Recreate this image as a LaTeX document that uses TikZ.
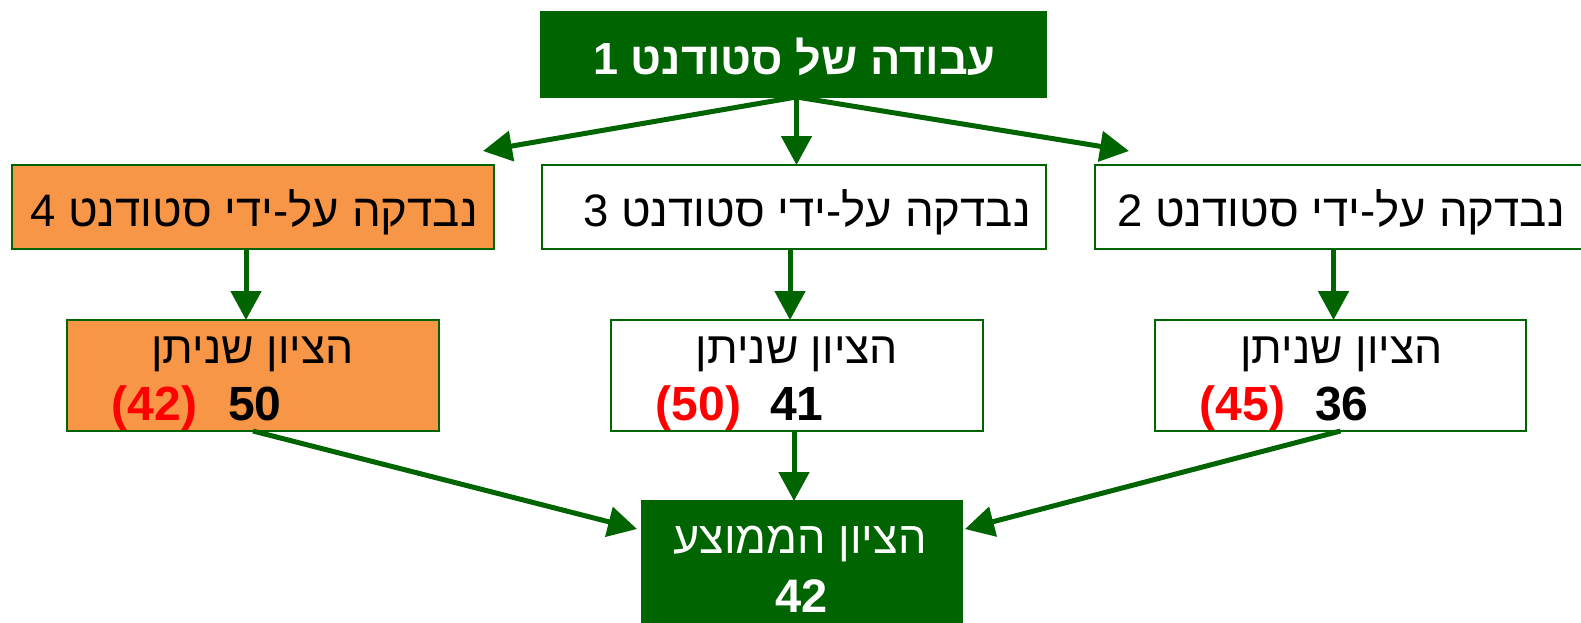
\documentclass[tikz,border=0pt]{standalone}
\usepackage{fontspec}
\setmainfont{Liberation Sans}
\newfontfamily\heb[Script=Hebrew]{Liberation Sans}
\TeXXeTstate=1
\usetikzlibrary{arrows.meta,calc}
\definecolor{dkgreen}{RGB}{0,100,0}
\definecolor{orangebox}{RGB}{247,150,70}
\definecolor{numred}{RGB}{255,0,0}
\tikzset{
  box/.style={draw=dkgreen, line width=1.6pt, inner sep=0pt, outer sep=0pt},
  darkbox/.style={box, fill=dkgreen},
  orbox/.style={box, fill=orangebox},
  whbox/.style={box, fill=white},
  arr/.style={draw=dkgreen, line width=5pt, -{Triangle[length=29pt,width=30pt]}},
  txt/.style={inner sep=0pt, outer sep=0pt, anchor=base},
  lbl/.style={txt, font=\heb\fontsize{45.5}{54}\selectfont},
  lblb/.style={txt, font=\heb\fontsize{44.5}{53}\selectfont},
  num/.style={inner sep=0pt, outer sep=0pt, font=\bfseries\fontsize{48}{56}\selectfont},
}
\begin{document}
\begin{tikzpicture}[x=1pt,y=-1pt]
\useasboundingbox (0,0) rectangle (1581,623);
\clip (0,0) rectangle (1581,623);
% boxes
\node[darkbox, minimum width=505, minimum height=85] (top) at (793.5,54.5) {};
\node[orbox, minimum width=482, minimum height=84] (b4) at (253,207) {};
\node[whbox, minimum width=504, minimum height=84] (b3) at (794,207) {};
\node[whbox, minimum width=505, minimum height=84] (b2) at (1347.5,207) {};
\node[orbox, minimum width=372, minimum height=111] (g4) at (253,375.5) {};
\node[whbox, minimum width=372, minimum height=111] (g3) at (797,375.5) {};
\node[whbox, minimum width=371, minimum height=111] (g2) at (1340.5,375.5) {};
\node[darkbox, minimum width=320, minimum height=139] (avg) at (802,570.5) {};
% texts
\node[txt, text=white, font=\heb\bfseries\fontsize{45}{52}\selectfont] (toptxt) at (794.5,75) {\beginR עבודה של סטודנט 1\endR};
\node[lbl] (b4txt) at (254,226) {\beginR נבדקה על-ידי סטודנט 4\endR};
\node[lbl] (b3txt) at (807,226) {\beginR נבדקה על-ידי סטודנט 3\endR};
\node[lbl] (b2txt) at (1341,226) {\beginR נבדקה על-ידי סטודנט 2\endR};
\node[lblb] (g4txt) at (252.5,363) {\beginR הציון שניתן\endR};
\node[lblb] (g3txt) at (797,363) {\beginR הציון שניתן\endR};
\node[lblb] (g2txt) at (1341.5,363) {\beginR הציון שניתן\endR};
\node[num, text=numred, anchor=base east] (g4old) at (197,420) {(42)};
\node[num, anchor=base west] (g4new) at (228,420) {50};
\node[num, text=numred, anchor=base east] (g3old) at (741,420) {(50)};
\node[num, anchor=base west] (g3new) at (770,420) {41};
\node[num, text=numred, anchor=base east] (g2old) at (1285,420) {(45)};
\node[num, anchor=base west] (g2new) at (1315,420) {36};
\node[txt, text=white, font=\heb\fontsize{45}{54}\selectfont] (avgtxt) at (800,553) {\beginR הציון הממוצע\endR};
\node[txt, text=white, font=\bfseries\fontsize{47}{56}\selectfont] (avgnum) at (801.5,612) {42};
% free arrow ends
\coordinate (t4) at (483,151);
\coordinate (t2) at (1129,151);
\coordinate (tl) at (637,529);
\coordinate (tr) at (965,529);
% connectors
\draw[arr] ([xshift=3pt]top.south) -- (t4);
\draw[arr] ([xshift=3pt]top.south) -- (t2);
\draw[arr] ([xshift=3pt]top.south) -- ([xshift=3pt]top.south |- b3.north);
\draw[arr] ([xshift=-7pt]g4.north |- b4.south) -- ([xshift=-7pt]g4.north);
\draw[arr] ([xshift=-7pt]g3.north |- b3.south) -- ([xshift=-7pt]g3.north);
\draw[arr] ([xshift=-7pt]g2.north |- b2.south) -- ([xshift=-7pt]g2.north);
\draw[arr] (g4.south) -- (tl);
\draw[arr] (g2.south) -- (tr);
\draw[arr] ([xshift=-3pt]g3.south) -- ([xshift=-3pt]g3.south |- avg.north);
\end{tikzpicture}
\end{document}
